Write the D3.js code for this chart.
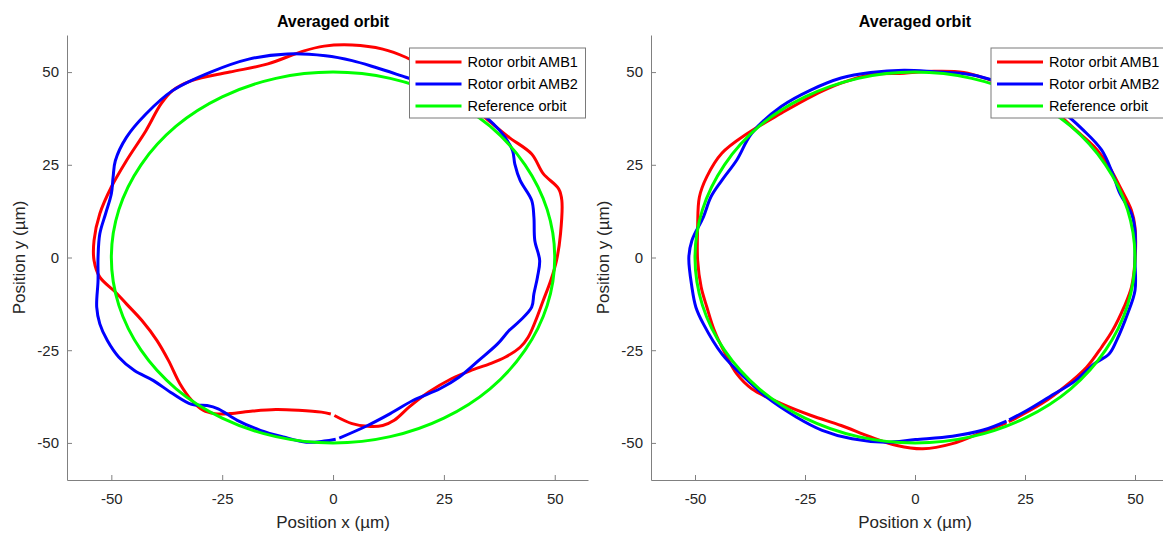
<!DOCTYPE html>
<html>
<head>
<meta charset="utf-8">
<script src="https://cdn.jsdelivr.net/npm/d3@7"></script>
<style>
  body { margin: 0; background: #fff; }
  text { font-family: "Liberation Sans", Arial, Helvetica, sans-serif; }
</style>
</head>
<body>
<div id="chart"></div>
<script>
// ---------- data (µm) ----------
const ticks = [-50, -25, 0, 25, 50];
const seriesNames = ["Rotor orbit AMB1", "Rotor orbit AMB2", "Reference orbit"];
const seriesColors = ["#ff0000", "#0000ff", "#00ff00"];

// reference circle, r = 50
const referenceOrbit = [
  [50, 0], [48.3, 12.9], [43.3, 25], [35.4, 35.4], [25, 43.3], [12.9, 48.3],
  [0, 50], [-12.9, 48.3], [-25, 43.3], [-35.4, 35.4], [-43.3, 25], [-48.3, 12.9],
  [-50, 0], [-48.3, -12.9], [-43.3, -25], [-35.4, -35.4], [-25, -43.3], [-12.9, -48.3],
  [0, -50], [12.9, -48.3], [25, -43.3], [35.4, -35.4], [43.3, -25], [48.3, -12.9]
];

// left plot
const amb1Left = [
  [0.3, -42.6], [4.3, -44.8], [7.8, -45.5], [11.2, -45.3], [13.8, -43.9], [17.2, -40.3],
  [21.6, -36.3], [26.7, -32.7], [31, -30.5], [35.3, -28.7], [38.8, -26.9], [42.2, -24.2],
  [44, -21.5], [45.7, -17], [47.4, -11.6], [49.1, -6.2], [50.4, -0.8], [51.3, 6.4],
  [51.6, 15.4], [50.9, 18.5], [47.4, 22.6], [44.8, 27.9], [39.7, 32.4], [34, 38],
  [27, 45], [21, 51], [16.4, 54], [11.2, 56.2], [4.3, 57.3], [-2, 57], [-6.9, 55.6],
  [-14.7, 52.2], [-23.3, 50], [-31.9, 47.7], [-36.2, 45], [-38.8, 41.4], [-42.2, 34.2],
  [-46.6, 26.1], [-50, 19], [-52.6, 11.8], [-53.9, 4.6], [-53.9, -0.8], [-52.6, -5.3],
  [-49.1, -9.3], [-46.6, -12.5], [-43.1, -17], [-39.7, -22.4], [-37.1, -27.8],
  [-34.5, -34.1], [-31.9, -38.5], [-29.3, -41.2], [-26.7, -42.1], [-23.3, -42.1],
  [-18.1, -41.4], [-12.9, -41], [-7.8, -41.2], [-2.6, -41.7], [-0.5, -42.2]
];
const amb2Left = [
  [1.4, -48.7], [7.8, -45.3], [12.9, -42.1], [18.1, -38.5], [24.1, -35.4], [28.4, -32.3],
  [32.8, -27.8], [37.1, -23.3], [39.7, -19.7], [42.2, -17], [44.8, -13.4], [45.3, -9.8],
  [46.1, -5.3], [46.6, -0.8], [45.5, 4.6], [45.3, 10.9], [44.8, 15.4], [42.2, 20.8],
  [41, 25.2], [40.5, 28.8], [38.8, 32.4], [36.2, 36], [30, 42], [23, 46], [16.4, 48.6],
  [9.5, 51.3], [4.3, 53.1], [-1.7, 54.4], [-10.3, 54.9], [-19, 53.5], [-27.6, 50],
  [-36.2, 45], [-42.2, 38.7], [-46.6, 32.4], [-49.1, 26.1], [-49.6, 21.7], [-50, 17.2],
  [-51.3, 11.8], [-52.6, 6.4], [-53, 0], [-53, -6.2], [-53.3, -13.4], [-52.6, -17.9],
  [-50.9, -22.4], [-48.3, -26.9], [-44.8, -30.5], [-40.5, -33.2], [-36.2, -36.7],
  [-31.9, -39.6], [-28.4, -39.9], [-25.9, -40.8], [-21.6, -43.9], [-16.4, -46.6],
  [-11.2, -48.4], [-6, -49.8], [-2, -49.5], [0.6, -49.0]
];

// right plot
const amb1Right = [
  [21.3, -44.3], [28.8, -39.4], [33.9, -35], [39, -29.6], [42.4, -24.2], [44.9, -19.7],
  [47.5, -13.4], [49.2, -8], [50, -0.8], [50, 8.2], [49.2, 12.7], [46.6, 19], [44.1, 24.5],
  [40.7, 29.9], [36.5, 34.4], [32.2, 38.9], [25, 44.5], [17, 47.9], [11.1, 49.9],
  [4.3, 50.2], [-2.5, 49.7], [-10.1, 49.3], [-16.8, 47], [-23.6, 43.4], [-30.4, 38.9],
  [-38, 33.5], [-43.9, 28.1], [-47.3, 21.8], [-49, 16.3], [-49.4, 8.2], [-49.4, -0.8],
  [-48.6, -8], [-47.3, -13.4], [-45.6, -19.7], [-43.1, -26], [-40.5, -31.4], [-37.1, -35.4],
  [-30.4, -39.4], [-23.6, -42.6], [-16.8, -45.3], [-10.1, -48.4], [-4.1, -50.7],
  [1.8, -51.6], [8.5, -50.2], [15.3, -47.1], [20.8, -44.6]
];
const amb2Right = [
  [21.4, -43.8], [25.5, -41.2], [30.5, -37.6], [36.5, -33.2], [40.7, -28.7], [44.1, -26],
  [45.8, -22.4], [48.3, -15.2], [50, -8.9], [50, -0.8], [50, 7.3], [49.2, 11.8],
  [46.6, 17.2], [44.9, 22.7], [42.4, 29], [38.2, 34.4], [33.9, 38.9], [26, 44.5],
  [20, 47], [12.8, 49.3], [4.3, 50.1], [-2.5, 50.5], [-10.1, 49.9], [-16.8, 48.4],
  [-23.6, 45.2], [-30.4, 40.7], [-37.1, 33.5], [-40.5, 26.3], [-43.9, 20.8], [-46.4, 16.3],
  [-48.1, 10.9], [-50.7, 4.6], [-51.4, 0], [-50.7, -8], [-49.8, -13.4], [-48.1, -17.9],
  [-43.9, -26], [-38.8, -32.3], [-33.8, -37.6], [-27, -43], [-21.1, -46.6], [-14.3, -48.9],
  [-6.7, -49.8], [0.1, -49.1], [8.5, -48.2], [15.3, -46.6], [20.8, -44.1]
];

// ---------- layout ----------
const svg = d3.select("#chart")
  .append("svg")
  .attr("width", 1163)
  .attr("height", 535);

const axisColor = "#808080";
const textColor = "#262626";

function drawPanel(left, right, amb1, amb2, legendX) {
  const x = d3.scaleLinear().domain([-60, 57.5]).range([left, right]);
  const y = d3.scaleLinear().domain([-60, 60]).range([480, 35]);

  const g = svg.append("g");

  // axes (ticks point inward, like MATLAB), plain hyphen for negatives
  const fmt = d => String(d);
  const xAxis = g.append("g")
    .attr("transform", "translate(0,480)")
    .call(d3.axisBottom(x).tickValues(ticks).tickFormat(fmt)
      .tickSizeInner(-5).tickSizeOuter(0).tickPadding(13));
  const yAxis = g.append("g")
    .attr("transform", `translate(${left},0)`)
    .call(d3.axisLeft(y).tickValues(ticks).tickFormat(fmt)
      .tickSizeInner(-5).tickSizeOuter(0).tickPadding(8));

  [xAxis, yAxis].forEach(a => {
    a.select(".domain").attr("stroke", axisColor);
    a.selectAll(".tick line").attr("stroke", axisColor);
    a.selectAll(".tick text")
      .attr("fill", textColor)
      .style("font-size", "15px")
      .style("font-family", '"Liberation Sans", Arial, sans-serif');
  });

  // curves
  const line = d3.line()
    .x(d => x(d[0]))
    .y(d => y(d[1]))
    .curve(d3.curveCatmullRom.alpha(0.5));
  const closedLine = d3.line()
    .x(d => x(d[0]))
    .y(d => y(d[1]))
    .curve(d3.curveCatmullRomClosed.alpha(0.5));

  [amb1, amb2].forEach((pts, i) => {
    g.append("path")
      .attr("d", line(pts))
      .attr("fill", "none")
      .attr("stroke", seriesColors[i])
      .attr("stroke-width", 3);
  });
  g.append("path")
    .attr("d", closedLine(referenceOrbit))
    .attr("fill", "none")
    .attr("stroke", seriesColors[2])
    .attr("stroke-width", 3);

  // title and labels
  g.append("text")
    .attr("x", x(0))
    .attr("y", 27)
    .attr("text-anchor", "middle")
    .attr("fill", "#000")
    .style("font-size", "16px")
    .style("font-weight", "bold")
    .text("Averaged orbit");

  g.append("text")
    .attr("x", x(0))
    .attr("y", 528)
    .attr("text-anchor", "middle")
    .attr("fill", textColor)
    .style("font-size", "17px")
    .text("Position x (µm)");

  g.append("text")
    .attr("transform", `translate(${left - 42},${y(0)}) rotate(-90)`)
    .attr("text-anchor", "middle")
    .attr("fill", textColor)
    .style("font-size", "17px")
    .text("Position y (µm)");

  // legend
  const lg = g.append("g").attr("transform", `translate(${legendX},48)`);
  lg.append("rect")
    .attr("width", 176)
    .attr("height", 70)
    .attr("fill", "#fff")
    .attr("stroke", "#7a7a7a")
    .attr("stroke-width", 1);
  seriesNames.forEach((name, i) => {
    const yy = 14 + i * 22;
    lg.append("line")
      .attr("x1", 6).attr("x2", 52)
      .attr("y1", yy).attr("y2", yy)
      .attr("stroke", seriesColors[i])
      .attr("stroke-width", 3);
    lg.append("text")
      .attr("x", 58)
      .attr("y", yy + 5)
      .attr("fill", "#000")
      .style("font-size", "14.5px")
      .text(name);
  });
}

drawPanel(67, 588, amb1Left, amb2Left, 409.5);
drawPanel(651, 1168, amb1Right, amb2Right, 991);
</script>
</body>
</html>
